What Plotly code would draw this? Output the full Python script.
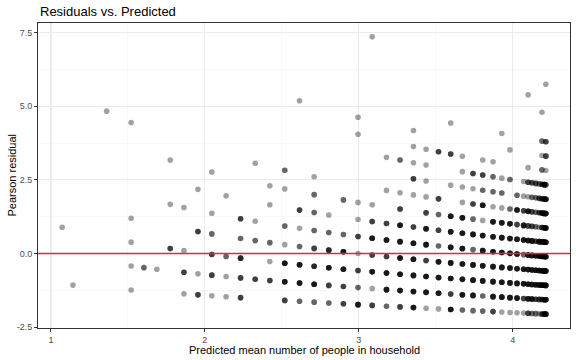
import numpy as np
import plotly.graph_objects as go

# Predicted mean household size (one entry per distinct fitted value)
predicted_mean = [1.073, 1.143, 1.362, 1.521, 1.604, 1.688, 1.775, 1.864, 1.955,
                  2.045, 2.138, 2.232, 2.327, 2.422, 2.519, 2.615, 2.710, 2.805,
                  2.900, 2.995, 3.087, 3.180, 3.268, 3.355, 3.437, 3.518, 3.597,
                  3.673, 3.742, 3.805, 3.872, 3.929, 3.982, 4.028, 4.071, 4.100,
                  4.125, 4.150, 4.172, 4.190, 4.205, 4.215]

# Observed household sizes seen at each fitted value
household_size = [
    [2], [0], [7], [7, 3, 2, 1, 0], [1], [1], [6, 4, 2], [4, 2, 1, 0], [5, 3, 1, 0],
    [6, 4, 3, 2, 1, 0], [5, 2, 1, 0], [4, 3, 2, 1, 0], [7, 4, 3, 1], [6, 5, 3, 2, 1],
    [7, 6, 4, 3, 2, 1, 0], [11, 5, 4, 3, 2, 1, 0], [7, 6, 5, 4, 3, 2, 1, 0],
    [5, 4, 3, 2, 1, 0], [6, 4, 3, 2, 1, 0], [11, 10, 6, 5, 4, 3, 2, 1, 0],
    [16, 6, 5, 4, 3, 2, 1, 0], [9, 7, 5, 4, 3, 2, 1, 0], [9, 7, 6, 5, 4, 3, 2, 1, 0],
    [11, 10, 9, 8, 7, 5, 4, 3, 2, 1, 0], [10, 9, 8, 7, 6, 5, 4, 3, 2, 1, 0],
    [10, 7, 6, 5, 4, 3, 2, 1, 0], [12, 10, 8, 6, 5, 4, 3, 2, 1, 0],
    [10, 9, 8, 7, 6, 5, 4, 3, 2, 1, 0], [9, 8, 7, 6, 5, 4, 3, 2, 1, 0],
    [10, 9, 8, 7, 6, 5, 4, 3, 2, 1, 0], [10, 9, 8, 7, 6, 5, 4, 3, 2, 1, 0],
    [12, 9, 8, 7, 6, 5, 4, 3, 2, 1, 0], [11, 9, 7, 6, 5, 4, 3, 2, 1, 0],
    [8, 7, 6, 5, 4, 3, 2, 1, 0], [9, 8, 7, 6, 5, 4, 3, 2, 1, 0],
    [15, 10, 9, 8, 7, 6, 5, 4, 3, 2, 1, 0], [9, 8, 7, 6, 5, 4, 3, 2, 1, 0],
    [9, 8, 7, 6, 5, 4, 3, 2, 1, 0], [9, 8, 7, 6, 5, 4, 3, 2, 1, 0],
    [14, 12, 11, 10, 9, 8, 7, 6, 5, 4, 3, 2, 1, 0], [9, 8, 7, 6, 5, 4, 3, 2, 1, 0],
    [16, 12, 11, 10, 9, 8, 7, 6, 5, 4, 3, 2, 1, 0],
]

# Number of households with that (fitted value, size) pair (estimated from shading)
n_households = [
    [1], [1], [1], [1, 1, 1, 1, 1], [2], [1], [1, 1, 3], [1, 1, 3, 1], [1, 3, 1, 3],
    [1, 1, 2, 3, 3, 1], [1, 2, 1, 1], [3, 2, 4, 3, 3], [1, 1, 2, 3], [1, 1, 2, 1, 3],
    [2, 1, 2, 1, 5, 5, 3], [1, 3, 1, 2, 5, 5, 2], [1, 2, 2, 2, 3, 4, 5, 2],
    [1, 2, 4, 5, 3, 2], [2, 2, 5, 5, 3, 3], [1, 1, 1, 1, 3, 1, 3, 2, 5],
    [1, 1, 3, 5, 3, 5, 1, 3], [1, 1, 3, 5, 3, 5, 5, 2], [2, 1, 3, 5, 5, 5, 5, 5, 3],
    [1, 1, 1, 3, 1, 3, 5, 5, 5, 5, 5], [1, 1, 1, 1, 3, 5, 5, 3, 5, 5, 1],
    [3, 3, 2, 3, 2, 5, 5, 5, 1], [1, 3, 1, 5, 5, 5, 5, 5, 3, 5],
    [1, 1, 1, 1, 5, 5, 5, 5, 5, 5, 2], [3, 1, 3, 2, 5, 2, 5, 5, 5, 2],
    [1, 3, 2, 5, 1, 5, 5, 5, 5, 2, 2], [1, 2, 2, 1, 5, 5, 5, 5, 5, 5, 3],
    [1, 1, 2, 1, 5, 5, 5, 5, 5, 5, 1], [1, 2, 2, 5, 5, 5, 5, 5, 5, 1],
    [2, 5, 3, 5, 5, 5, 5, 5, 1], [1, 1, 3, 5, 5, 2, 5, 5, 3, 1],
    [1, 1, 3, 1, 5, 3, 5, 5, 5, 5, 5, 3], [3, 2, 3, 3, 5, 5, 5, 5, 5, 2],
    [3, 2, 2, 2, 3, 5, 5, 5, 3, 2], [2, 3, 3, 1, 5, 5, 5, 5, 3, 1],
    [1, 2, 1, 2, 3, 3, 5, 3, 5, 5, 5, 5, 3, 3], [5, 5, 5, 5, 5, 5, 5, 5, 5, 5],
    [1, 3, 3, 1, 3, 5, 5, 5, 5, 5, 5, 5, 5, 5],
]

x_ticks = [1, 2, 3, 4]
y_ticks = [-2.5, 0.0, 2.5, 5.0, 7.5]
y_tick_labels = ["-2.5", "0.0", "2.5", "5.0", "7.5"]

# Expand to one row per household and compute Pearson residuals
xs, ys = [], []
for mu, sizes, counts in zip(predicted_mean, household_size, n_households):
    for y, n in zip(sizes, counts):
        r = (y - mu) / np.sqrt(mu)
        xs.extend([mu] * n)
        ys.extend([r] * n)
xs = np.array(xs)
ys = np.array(ys)

def expand(v):
    lo, hi = float(np.min(v)), float(np.max(v))
    pad = 0.05 * (hi - lo)
    return [lo - pad, hi + pad]

xr = expand(xs)
yr = expand(ys)

FONT = "Liberation Sans, Arial, Helvetica, sans-serif"

fig = go.Figure()
fig.add_trace(go.Scatter(
    x=xs, y=ys, mode="markers",
    marker=dict(color="black", size=5.6, opacity=0.37, line=dict(width=0)),
    hoverinfo="skip", showlegend=False,
))
fig.add_trace(go.Scatter(
    x=xr, y=[0, 0], mode="lines",
    line=dict(color="#ff2020", width=1.5),
    hoverinfo="skip", showlegend=False,
))

axis_common = dict(
    showgrid=True, gridcolor="#ebebeb", gridwidth=1.1,
    zeroline=False, showline=True, mirror=True,
    linecolor="#333333", linewidth=1,
    ticks="outside", ticklen=3, tickwidth=1, tickcolor="#333333",
    tickfont=dict(family=FONT, size=9, color="#4d4d4d"),
)

fig.update_layout(
    width=576, height=360,
    margin=dict(l=38, r=6, t=23, b=32),
    paper_bgcolor="white", plot_bgcolor="white",
    xaxis=dict(range=xr, tickvals=x_ticks, ticktext=[str(t) for t in x_ticks],
               minor=dict(tickvals=[1.5, 2.5, 3.5], showgrid=True,
                          gridcolor="#f3f3f3", gridwidth=0.6, ticklen=0),
               **axis_common),
    yaxis=dict(range=yr, tickvals=y_ticks, ticktext=y_tick_labels,
               minor=dict(tickvals=[-1.25, 1.25, 3.75, 6.25], showgrid=True,
                          gridcolor="#f3f3f3", gridwidth=0.6, ticklen=0),
               **axis_common),
    annotations=[
        dict(text="Residuals vs. Predicted", xref="paper", yref="paper",
             x=0, y=1, xanchor="left", yanchor="bottom", yshift=2,
             showarrow=False, font=dict(family=FONT, size=13, color="black")),
        dict(text="Predicted mean number of people in household", xref="paper",
             yref="paper", x=0.5, y=-0.073, xanchor="center", yanchor="middle",
             showarrow=False, font=dict(family=FONT, size=11, color="black")),
        dict(text="Pearson residual", xref="paper", yref="paper",
             x=-27 / 532, y=0.5, xanchor="center", yanchor="middle", textangle=-90,
             showarrow=False, font=dict(family=FONT, size=11, color="black")),
    ],
)

fig.write_html("out.html",
               config={"displayModeBar": False, "staticPlot": True},
               post_script="document.body.style.margin='0';document.body.style.padding='0';")
